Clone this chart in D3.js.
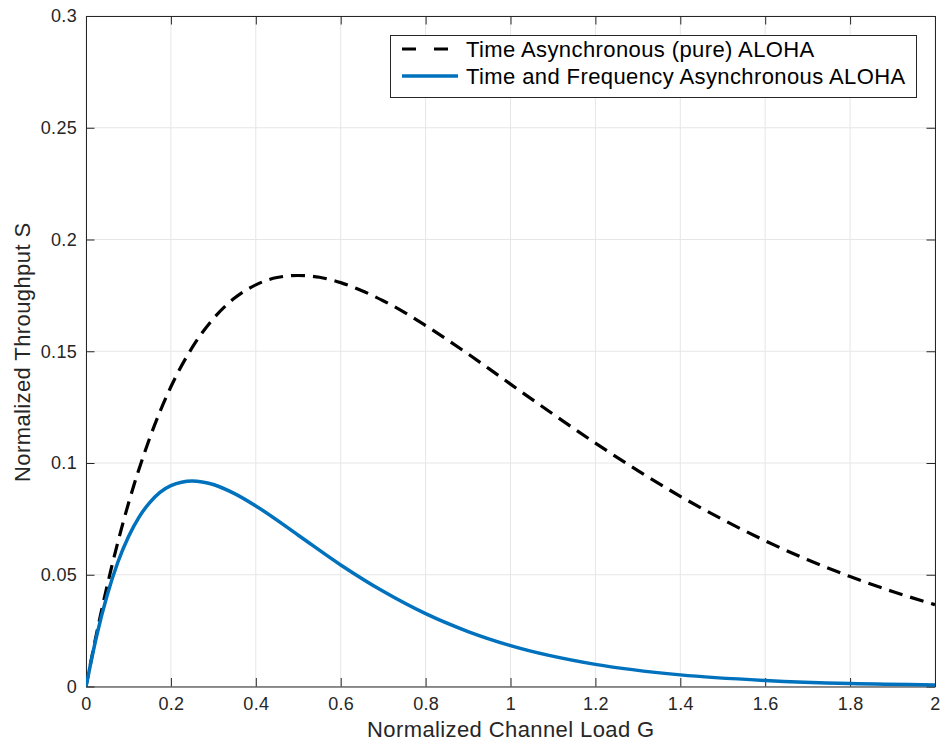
<!DOCTYPE html>
<html><head><meta charset="utf-8">
<script src="https://cdn.jsdelivr.net/npm/d3@7"></script>
<style>body{margin:0;background:#fff;} text{font-family:"Liberation Sans",Arial,Helvetica,sans-serif;}</style>
</head><body><svg id="c" width="943" height="745"></svg>
<script>
const xTicks = [0,0.2,0.4,0.6,0.8,1,1.2,1.4,1.6,1.8,2];
const xTickLabels = ["0","0.2","0.4","0.6","0.8","1","1.2","1.4","1.6","1.8","2"];
const yTicks = [0,0.05,0.1,0.15,0.2,0.25,0.3];
const yTickLabels = ["0","0.05","0.1","0.15","0.2","0.25","0.3"];
const seriesNames = ["Time Asynchronous (pure) ALOHA","Time and Frequency Asynchronous ALOHA"];
const pureG = [0,0.025,0.05,0.1,0.15,0.2,0.25,0.3,0.35,0.4,0.45,0.5,0.55,0.6,0.65,0.7,0.75,0.8,0.85,0.9,0.95,1.0,1.1,1.2,1.3,1.4,1.5,1.6,1.7,1.8,1.9,2.0];
const pureS = [0,0.0238,0.0452,0.0819,0.1111,0.1341,0.1516,0.1646,0.1738,0.1797,0.1830,0.1839,0.1831,0.1807,0.1771,0.1726,0.1674,0.1615,0.1553,0.1488,0.1421,0.1353,0.1219,0.1089,0.0966,0.0851,0.0747,0.0652,0.0567,0.0492,0.0425,0.0366];
const tfG = [0,0.025,0.05,0.075,0.1,0.125,0.15,0.2,0.25,0.3,0.35,0.4,0.5,0.6,0.7,0.8,0.9,1.0,1.2,1.4,1.6,1.8,2.0];
const tfS = [0,0.0226,0.0409,0.0556,0.0670,0.0758,0.0823,0.0899,0.0920,0.0904,0.0863,0.0808,0.0677,0.0544,0.0426,0.0326,0.0246,0.0183,0.0099,0.0052,0.0027,0.0013,0.0007];

const svg = d3.select("#c");
const L=86,R=935,T=16,B=686.5;
const x = d3.scaleLinear().domain([0,2]).range([L,R]);
const y = d3.scaleLinear().domain([0,0.3]).range([B,T]);
const grid="#e6e6e6", axc="#262626";
const g = svg.append("g");
g.selectAll(".gx").data(xTicks).enter().append("line").attr("x1",d=>x(d)).attr("x2",d=>x(d)).attr("y1",T).attr("y2",B).attr("stroke",grid).attr("stroke-width",1);
g.selectAll(".gy").data(yTicks).enter().append("line").attr("y1",d=>y(d)).attr("y2",d=>y(d)).attr("x1",L).attr("x2",R).attr("stroke",grid).attr("stroke-width",1);
const xb = d3.axisBottom(x).tickValues(xTicks).tickFormat((d,i)=>xTickLabels[i]).tickSizeInner(-8.5).tickSizeOuter(0).tickPadding(11);
const xt = d3.axisTop(x).tickValues(xTicks).tickFormat("").tickSizeInner(-8.5).tickSizeOuter(0);
const yl = d3.axisLeft(y).tickValues(yTicks).tickFormat((d,i)=>yTickLabels[i]).tickSizeInner(-8.5).tickSizeOuter(0).tickPadding(9);
const yr = d3.axisRight(y).tickValues(yTicks).tickFormat("").tickSizeInner(-8.5).tickSizeOuter(0);
function style(sel){sel.selectAll("path,line").attr("stroke",axc);sel.selectAll("text").attr("fill",axc).style("font-size","18px").style("letter-spacing","0.3px").style("font-family","Liberation Sans, Arial, sans-serif");sel.select(".domain").attr("stroke-width",1);}
style(svg.append("g").attr("transform",`translate(0,${B})`).call(xb));
style(svg.append("g").attr("transform",`translate(0,${T})`).call(xt));
style(svg.append("g").attr("transform",`translate(${L},0)`).call(yl));
style(svg.append("g").attr("transform",`translate(${R},0)`).call(yr));
const line = d3.line().x(d=>x(d[0])).y(d=>y(d[1])).curve(d3.curveMonotoneX);
svg.append("clipPath").attr("id","cp").append("rect").attr("x",L).attr("y",T).attr("width",R-L).attr("height",B-T+2);
svg.append("path").datum(pureG.map((g,i)=>[g,pureS[i]])).attr("d",line).attr("fill","none").attr("stroke","#000").attr("stroke-width",3.2).attr("stroke-dasharray","14,8").attr("clip-path","url(#cp)");
svg.append("path").datum(tfG.map((g,i)=>[g,tfS[i]])).attr("d",line).attr("fill","none").attr("stroke","#0072BD").attr("stroke-width",3.5).attr("clip-path","url(#cp)");
svg.append("text").attr("x",367).attr("y",737).attr("fill",axc).style("font-size","22px").style("letter-spacing","0.4px").text("Normalized Channel Load G");
svg.append("text").attr("transform",`translate(30,482) rotate(-90)`).attr("fill",axc).style("font-size","22px").style("letter-spacing","0.4px").text("Normalized Throughput S");
const lg = svg.append("g");
lg.append("rect").attr("x",390.5).attr("y",35.5).attr("width",526).attr("height",62).attr("fill","#fff").attr("stroke","#262626").attr("stroke-width",1);
const styles=[{c:"#000",d:"14,18",w:3.2},{c:"#0072BD",d:null,w:3.5}];
seriesNames.forEach((n,i)=>{
  const yy = 49 + i*27;
  const l = lg.append("line").attr("x1",402).attr("x2",i===0?449:458).attr("y1",yy).attr("y2",yy).attr("stroke",styles[i].c).attr("stroke-width",styles[i].w);
  if(styles[i].d) l.attr("stroke-dasharray",styles[i].d);
  lg.append("text").attr("x",466).attr("y",yy+7.5).attr("fill","#000").style("font-size","22px").style("letter-spacing","0.4px").text(n);
});
</script></body></html>
